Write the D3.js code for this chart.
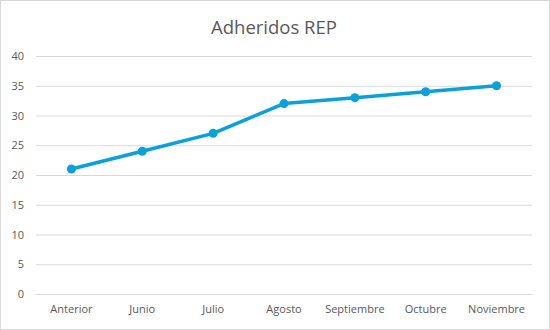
<!DOCTYPE html>
<html><head><meta charset="utf-8">
<script src="https://cdn.jsdelivr.net/npm/d3@7"></script>
<style>html,body{margin:0;padding:0;background:#fff;}svg{display:block;}</style>
</head><body>
<script>
const categories = ["Anterior","Junio","Julio","Agosto","Septiembre","Octubre","Noviembre"];
const values = [21,24,27,32,33,34,35];
const yTicks = [0,5,10,15,20,25,30,35,40];
const title = "Adheridos REP";

const W=550,H=330;
const svg=d3.select("body").append("svg").attr("width",W).attr("height",H);
svg.append("rect").attr("x",0.5).attr("y",0.5).attr("width",W-1).attr("height",H-1)
  .attr("fill","#fff").attr("stroke","#d9d9d9");
const font="'Open Sans', 'Liberation Sans', sans-serif";
const x=d3.scaleBand().domain(categories).range([36,532]);
const y=d3.scaleLinear().domain([0,40]).range([294,56]);

svg.append("text").attr("x",274).attr("y",34).attr("text-anchor","middle")
  .attr("font-family",font).attr("font-size",18.5).attr("fill","#595959").text(title);

const ga=svg.append("g").attr("transform","translate(36,0)").call(d3.axisLeft(y).tickValues(yTicks).tickSize(-496).tickPadding(12));
ga.select(".domain").remove();
ga.selectAll("line").attr("stroke","#d9d9d9");
ga.selectAll("text").attr("font-family",font).attr("font-size",11).attr("fill","#595959");

const gx=svg.append("g").attr("transform","translate(0,294)").call(d3.axisBottom(x).tickSize(0).tickPadding(11));
gx.select(".domain").remove();
gx.selectAll("text").attr("font-family",font).attr("font-size",11).attr("fill","#595959");

const line=d3.line().x((d,i)=>x(categories[i])+x.bandwidth()/2).y(d=>y(d));
svg.append("path").datum(values).attr("d",line).attr("fill","none")
  .attr("stroke","#0aa0dc").attr("stroke-width",3.5).attr("stroke-linejoin","round");
svg.selectAll("circle.pt").data(values).enter().append("circle")
  .attr("cx",(d,i)=>x(categories[i])+x.bandwidth()/2).attr("cy",d=>y(d)).attr("r",4.5).attr("fill","#0aa0dc");
</script>
</body></html>
